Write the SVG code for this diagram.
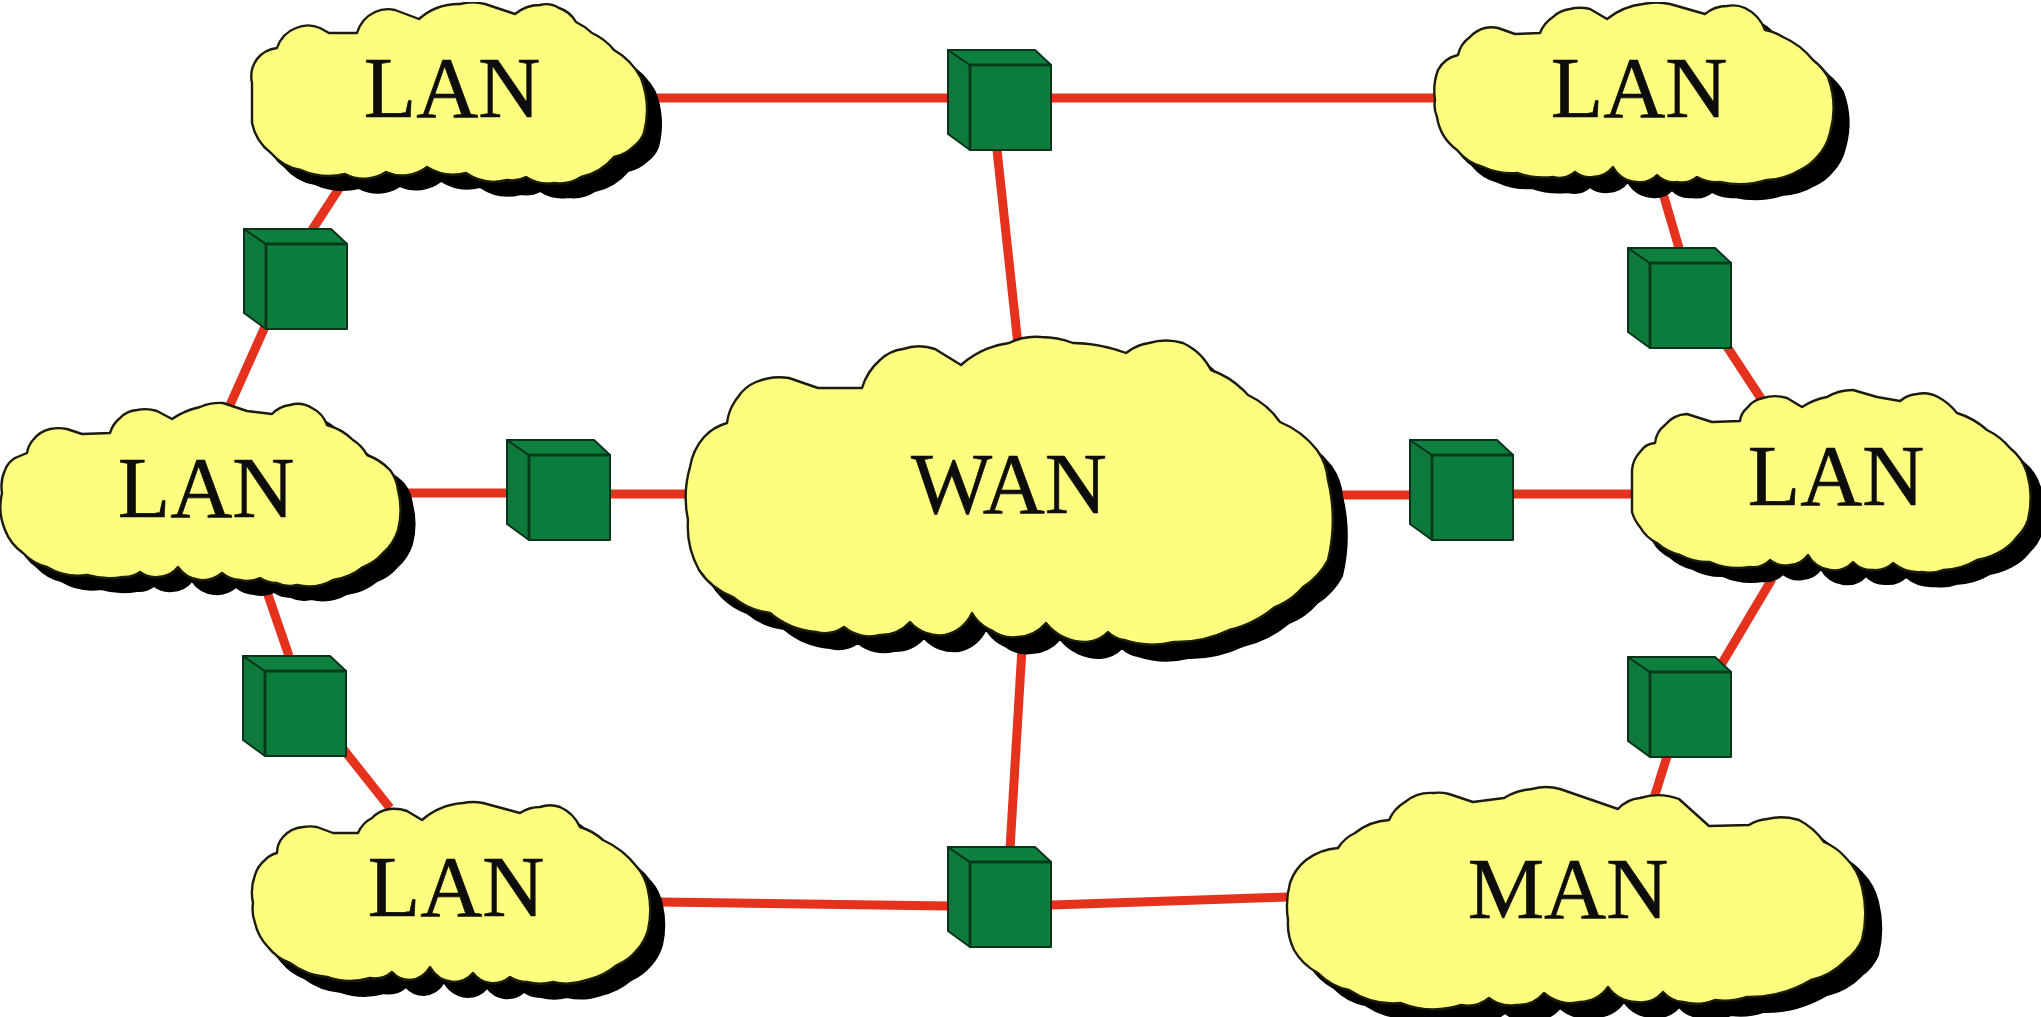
<svg xmlns="http://www.w3.org/2000/svg" width="2041" height="1017" viewBox="0 0 2041 1017">
<style>
.shadow{fill:#000;stroke:#000;stroke-width:2}
.cloud{fill:#fdfd80;stroke:#1c1c08;stroke-width:2.4;stroke-linejoin:round}
.label{font-family:"Liberation Serif","Times New Roman",serif;font-size:86px;fill:#0c0c08;stroke:#0c0c08;stroke-width:.6;text-anchor:middle}
.link{stroke:#e4301f;stroke-width:9;fill:none}
.cf{fill:#0b7d3c;stroke:#07331c;stroke-width:2;stroke-linejoin:round}
.ct{fill:#0c8040;stroke:#07331c;stroke-width:2;stroke-linejoin:round}
.cl{fill:#0a7a3a;stroke:#07331c;stroke-width:2;stroke-linejoin:round}
.ce{fill:none;stroke:#053a1c;stroke-width:3}
</style>
<defs>
<filter id="soft" x="0" y="0" width="100%" height="100%"><feGaussianBlur stdDeviation="0.7"/></filter>
<g id="cube">
<polygon class="cl" points="0,0 22,15 22,100 0,84"/>
<polygon class="ct" points="0,0 87,0 103,15 22,15"/>
<rect class="cf" x="22" y="15" width="81" height="85"/>
<path class="ce" d="M22 15H103M22 15V100"/>
</g>
<path id="c-tl" d="M252 123L252 83A30 30 0 0 1 257 59A30 30 0 0 1 277 48A32 32 0 0 1 296 28A30 30 0 0 1 320 28L329 33L357 33A34 34 0 0 1 375 12A30 30 0 0 1 395 10L419 19A60 60 0 0 1 460 4A50 50 0 0 1 485 4L515 14A40 40 0 0 1 540 5A24 24 0 0 1 559 8A30 30 0 0 1 576 22A60 60 0 0 1 592 33A60 60 0 0 1 614 50A70 70 0 0 1 641 78A90 90 0 0 1 644 133A30 30 0 0 1 633 147A40 40 0 0 1 614 157A60 60 0 0 1 581 177A40 40 0 0 1 554 183A40 40 0 0 1 526 177A30 30 0 0 1 507 180A50 50 0 0 1 466 173A50 50 0 0 1 427 167A40 40 0 0 1 386 172A40 40 0 0 1 345 174A70 70 0 0 1 301 170A50 50 0 0 1 271 153A50 50 0 0 1 252 123Z"/>
<path id="c-l" d="M2 493A40 40 0 0 1 5 470A24 24 0 0 1 15 458L27 453A26 26 0 0 1 33 440A30 30 0 0 1 50 429A40 40 0 0 1 67 429L82 434L110 433A30 30 0 0 1 120 418A26 26 0 0 1 137 410A40 40 0 0 1 157 411L172 419A80 80 0 0 1 200 407A50 50 0 0 1 223 403L247 411L272 414A30 30 0 0 1 290 405A26 26 0 0 1 312 408A30 30 0 0 1 327 425A60 60 0 0 1 353 440A40 40 0 0 1 367 455A60 60 0 0 1 390 470A40 40 0 0 1 398 490A80 80 0 0 1 398 530A50 50 0 0 1 383 553A50 50 0 0 1 363 567A60 60 0 0 1 333 580A50 50 0 0 1 297 585A30 30 0 0 1 277 583A30 30 0 0 1 260 578A30 30 0 0 1 240 580A30 30 0 0 1 222 573A30 30 0 0 1 200 580A30 30 0 0 1 178 567A26 26 0 0 1 158 577A26 26 0 0 1 140 572A26 26 0 0 1 123 577A80 80 0 0 1 87 575A60 60 0 0 1 47 567A50 50 0 0 1 23 553A50 50 0 0 1 5 530A60 60 0 0 1 2 493Z"/>
<path id="c-r" d="M1632 493L1632 470A30 30 0 0 1 1640 452A20 20 0 0 1 1655 443A26 26 0 0 1 1665 425A30 30 0 0 1 1687 414L1712 422L1740 421A20 20 0 0 1 1747 408A26 26 0 0 1 1763 398A40 40 0 0 1 1787 398L1802 407A70 70 0 0 1 1827 397A50 50 0 0 1 1853 390L1877 397L1900 401A30 30 0 0 1 1917 394A30 30 0 0 1 1938 397A60 60 0 0 1 1957 413A80 80 0 0 1 1987 430A70 70 0 0 1 2010 448A50 50 0 0 1 2027 473A90 90 0 0 1 2028 520A40 40 0 0 1 2017 537A50 50 0 0 1 2003 550A70 70 0 0 1 1977 560A70 70 0 0 1 1943 570A40 40 0 0 1 1922 572A40 40 0 0 1 1893 563A26 26 0 0 1 1873 570A26 26 0 0 1 1853 562A26 26 0 0 1 1830 570A30 30 0 0 1 1808 555A24 24 0 0 1 1790 565A24 24 0 0 1 1770 560A24 24 0 0 1 1750 567A70 70 0 0 1 1710 562A60 60 0 0 1 1680 555A50 50 0 0 1 1657 543A40 40 0 0 1 1640 527A40 40 0 0 1 1632 512Z"/>
<path id="c-tr" d="M1435 100A60 60 0 0 1 1438 70A30 30 0 0 1 1458 55A30 30 0 0 1 1470 37A30 30 0 0 1 1485 28A30 30 0 0 1 1498 28L1515 34L1540 33A34 34 0 0 1 1553 17A30 30 0 0 1 1570 9A40 40 0 0 1 1590 9L1607 19A70 70 0 0 1 1643 4A60 60 0 0 1 1670 4L1705 14A34 34 0 0 1 1727 6A30 30 0 0 1 1745 8A40 40 0 0 1 1765 30A50 50 0 0 1 1783 37A80 80 0 0 1 1813 60A60 60 0 0 1 1828 77A90 90 0 0 1 1830 133A50 50 0 0 1 1817 157A50 50 0 0 1 1800 170A70 70 0 0 1 1767 180A90 90 0 0 1 1720 182A40 40 0 0 1 1697 177A24 24 0 0 1 1677 182A24 24 0 0 1 1657 175A24 24 0 0 1 1637 182A30 30 0 0 1 1613 167A26 26 0 0 1 1593 177A24 24 0 0 1 1575 172A24 24 0 0 1 1553 177A80 80 0 0 1 1517 173A70 70 0 0 1 1483 167A50 50 0 0 1 1457 150A50 50 0 0 1 1437 117A30 30 0 0 1 1435 100Z"/>
<path id="c-bl" d="M253 903A50 50 0 0 1 255 875A30 30 0 0 1 265 860A24 24 0 0 1 277 853A24 24 0 0 1 283 837A30 30 0 0 1 303 827A40 40 0 0 1 317 827L333 833L358 833A30 30 0 0 1 372 818A30 30 0 0 1 390 809A40 40 0 0 1 407 811L422 820A70 70 0 0 1 463 803A50 50 0 0 1 483 803L520 813A36 36 0 0 1 540 807A30 30 0 0 1 560 807A40 40 0 0 1 580 827A60 60 0 0 1 603 840A90 90 0 0 1 637 867A50 50 0 0 1 648 890A90 90 0 0 1 648 930A50 50 0 0 1 637 950A50 50 0 0 1 617 965A70 70 0 0 1 587 980A60 60 0 0 1 553 982A50 50 0 0 1 527 982A30 30 0 0 1 510 977A26 26 0 0 1 490 983A26 26 0 0 1 473 973A26 26 0 0 1 453 982A30 30 0 0 1 430 967A26 26 0 0 1 410 980A24 24 0 0 1 392 972A26 26 0 0 1 370 978A70 70 0 0 1 327 977A70 70 0 0 1 290 963A50 50 0 0 1 268 947A50 50 0 0 1 255 923A40 40 0 0 1 253 903Z"/>
<path id="c-man" d="M1288 920A90 90 0 0 1 1290 883A50 50 0 0 1 1306 860A60 60 0 0 1 1338 848A40 40 0 0 1 1355 833A60 60 0 0 1 1389 820A40 40 0 0 1 1405 802A40 40 0 0 1 1433 793A40 40 0 0 1 1449 794L1473 802L1504 798A60 60 0 0 1 1532 789A50 50 0 0 1 1560 789L1618 809A34 34 0 0 1 1640 798A60 60 0 0 1 1679 799L1709 826L1749 825A40 40 0 0 1 1767 819A60 60 0 0 1 1799 820A70 70 0 0 1 1824 842A60 60 0 0 1 1846 858A60 60 0 0 1 1862 887A110 110 0 0 1 1862 940A50 50 0 0 1 1846 960A70 70 0 0 1 1811 980A120 120 0 0 1 1747 997A70 70 0 0 1 1715 1000A50 50 0 0 1 1683 1002A30 30 0 0 1 1663 992A30 30 0 0 1 1636 1002A36 36 0 0 1 1608 987A36 36 0 0 1 1580 1002A40 40 0 0 1 1544 993A34 34 0 0 1 1516 1005A34 34 0 0 1 1489 998A34 34 0 0 1 1461 1005A90 90 0 0 1 1401 1003A80 80 0 0 1 1349 990A60 60 0 0 1 1318 973A60 60 0 0 1 1294 950A60 60 0 0 1 1288 920Z"/>
<path id="c-wan" d="M688 520A110 110 0 0 1 690 467A60 60 0 0 1 704 437A50 50 0 0 1 727 423A50 50 0 0 1 738 397A40 40 0 0 1 756 382A60 60 0 0 1 789 378L818 388L862 388A60 60 0 0 1 880 360A40 40 0 0 1 903 349A50 50 0 0 1 935 349L961 365A90 90 0 0 1 1009 343A60 60 0 0 1 1041 337A90 90 0 0 1 1073 343A160 160 0 0 1 1126 353A50 50 0 0 1 1149 343A60 60 0 0 1 1183 343A60 60 0 0 1 1211 370A90 90 0 0 1 1248 395A80 80 0 0 1 1280 422A90 90 0 0 1 1317 450A60 60 0 0 1 1328 480A170 170 0 0 1 1328 560A70 70 0 0 1 1303 587A70 70 0 0 1 1275 607A110 110 0 0 1 1229 630A120 120 0 0 1 1174 642A90 90 0 0 1 1124 640A30 30 0 0 1 1108 632A34 34 0 0 1 1087 642A50 50 0 0 1 1046 623A40 40 0 0 1 1018 637A36 36 0 0 1 991 630A40 40 0 0 1 972 613A40 40 0 0 1 945 635A40 40 0 0 1 910 622A40 40 0 0 1 880 635A40 40 0 0 1 844 627A34 34 0 0 1 816 632A80 80 0 0 1 770 613A70 70 0 0 1 733 597A70 70 0 0 1 699 570A90 90 0 0 1 688 520Z"/>
</defs>
<rect width="2041" height="1017" fill="#fff"/>
<g filter="url(#soft)">
<g id="connectors" class="link">
<path d="M640 98H948"/>
<path d="M1051 98H1440"/>
<path d="M997 150L1018 345"/>
<path d="M340 187L312 230"/>
<path d="M268 320L230 405"/>
<path d="M400 493H507"/>
<path d="M610 494H690"/>
<path d="M1335 495H1410"/>
<path d="M1513 494H1632"/>
<path d="M1662 190L1679 248"/>
<path d="M1720 336L1762 400"/>
<path d="M1772 579L1718 670"/>
<path d="M1669 750L1654 798"/>
<path d="M267 592L289 656"/>
<path d="M336 740L390 808"/>
<path d="M1022 648L1010 849"/>
<path d="M660 902L948 906"/>
<path d="M1052 905L1288 897"/>
</g>
<g id="lan-top-left"><use href="#c-tl" class="shadow" transform="translate(14,14)"/><use href="#c-tl" class="cloud"/><text class="label" x="452" y="117">LAN</text></g>
<g id="lan-left"><use href="#c-l" class="shadow" transform="translate(14,14)"/><use href="#c-l" class="cloud"/><text class="label" x="206" y="517">LAN</text></g>
<g id="lan-right"><use href="#c-r" class="shadow" transform="translate(13,14)"/><use href="#c-r" class="cloud"/><text class="label" x="1836" y="505">LAN</text></g>
<g id="lan-top-right"><use href="#c-tr" class="shadow" transform="translate(15,15)"/><use href="#c-tr" class="cloud"/><text class="label" x="1639" y="117">LAN</text></g>
<g id="lan-bottom-left"><use href="#c-bl" class="shadow" transform="translate(14,15)"/><use href="#c-bl" class="cloud"/><text class="label" x="456" y="916">LAN</text></g>
<g id="man"><use href="#c-man" class="shadow" transform="translate(16,15)"/><use href="#c-man" class="cloud"/><text class="label" x="1568" y="918">MAN</text></g>
<g id="wan"><use href="#c-wan" class="shadow" transform="translate(14,16)"/><use href="#c-wan" class="cloud"/><text class="label" x="1009" y="513">WAN</text></g>
<g id="sw-top"><use href="#cube" x="948" y="50"/></g>
<g id="sw-left-upper"><use href="#cube" x="244" y="229"/></g>
<g id="sw-left-mid"><use href="#cube" x="507" y="440"/></g>
<g id="sw-right-mid"><use href="#cube" x="1410" y="440"/></g>
<g id="sw-right-upper"><use href="#cube" x="1628" y="248"/></g>
<g id="sw-left-lower"><use href="#cube" x="243" y="656"/></g>
<g id="sw-bottom"><use href="#cube" x="948" y="847"/></g>
<g id="sw-right-lower"><use href="#cube" x="1628" y="657"/></g>
</g>
</svg>
